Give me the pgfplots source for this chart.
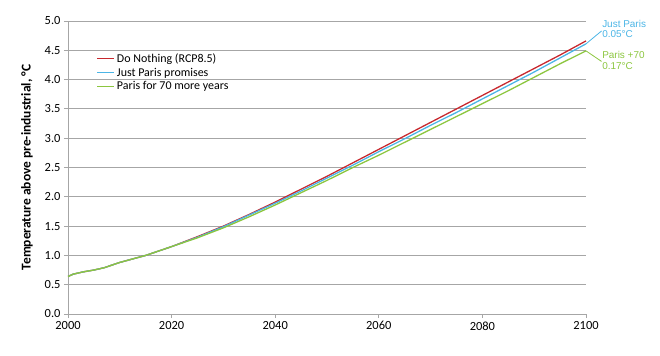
\documentclass[border=0pt]{standalone}
\usepackage{pgfplots}
\pgfplotsset{compat=1.18}
\usepackage{fontspec}
\setmainfont{Carlito}
\newfontfamily\arialfont{Liberation Sans}
\definecolor{cred}{HTML}{C8282E}
\definecolor{cblue}{HTML}{4BB5E6}
\definecolor{cgreen}{HTML}{8CC63F}
\definecolor{cgrid}{HTML}{A6A6A6}
\begin{document}
\begin{tikzpicture}
\useasboundingbox (-68bp,-42bp) rectangle (592bp,314bp);
\begin{axis}[
  at={(0,0)}, anchor=south west,
  scale only axis, width=518bp, height=293bp,
  xmin=2000, xmax=2100, ymin=0, ymax=5,
  xtick={2000,2020,...,2100}, ytick={0,0.5,...,5},
  ymajorgrids, grid style={cgrid, line width=0.8pt},
  axis x line*=bottom, axis y line*=left,
  axis line style={cgrid, line width=0.8pt, -},
  tick align=outside, major tick length=4bp,
  tick style={cgrid, line width=0.8pt},
  clip=false,
  font=\fontsize{12.5}{14}\selectfont,
  /pgf/number format/assume math mode=true,
  xticklabel style={/pgf/number format/.cd, 1000 sep={}},
  yticklabel style={/pgf/number format/.cd, fixed, fixed zerofill, precision=1},
  ylabel={\bfseries Temperature above pre-industrial, °C},
  ylabel style={font=\fontsize{13.5}{15}\selectfont, at={(axis description cs:-0.079,0.5)}, anchor=center},
  legend style={draw=none, fill=none, at={(axis cs:2005.5,4.48)}, anchor=north west,
    font=\fontsize{12}{14}\selectfont, row sep=0bp, inner sep=0pt},
  legend cell align=left,
  legend image code/.code={\draw[#1] (0bp,0bp) -- (17bp,0bp);},
]
\addplot[cred, line width=1.3pt] coordinates {
(2000,0.64) (2001,0.68) (2003,0.72) (2005,0.75) (2007,0.79) (2008,0.82) (2010,0.88) (2015,1.00) (2020,1.15)
(2025,1.32) (2030,1.50) (2035,1.70) (2040,1.91) (2045,2.13) (2050,2.35) (2055,2.58) (2060,2.81)
(2065,3.04) (2070,3.27) (2075,3.50) (2080,3.73) (2085,3.96) (2090,4.19) (2095,4.42) (2100,4.66)};
\addlegendentry{Do Nothing (RCP8.5)}
\addplot[cblue, line width=1.3pt] coordinates {
(2000,0.64) (2001,0.68) (2003,0.72) (2005,0.75) (2007,0.79) (2008,0.82) (2010,0.88) (2015,1.00) (2020,1.15)
(2025,1.31) (2030,1.49) (2035,1.69) (2040,1.89) (2045,2.10) (2050,2.32) (2055,2.54) (2060,2.77)
(2065,2.99) (2070,3.22) (2075,3.44) (2080,3.67) (2085,3.90) (2090,4.13) (2095,4.37) (2100,4.61)};
\addlegendentry{Just Paris promises}
\addplot[cgreen, line width=1.3pt] coordinates {
(2000,0.64) (2001,0.68) (2003,0.72) (2005,0.75) (2007,0.79) (2008,0.82) (2010,0.88) (2015,1.00) (2020,1.15)
(2025,1.30) (2030,1.47) (2035,1.66) (2040,1.86) (2045,2.07) (2050,2.28) (2055,2.50) (2060,2.71)
(2065,2.93) (2070,3.15) (2075,3.37) (2080,3.59) (2085,3.81) (2090,4.04) (2095,4.27) (2100,4.49)};
\addlegendentry{Paris for 70 more years}
\draw[cblue, line width=0.8pt] (axis cs:2100,4.61) -- (axis cs:2103,4.83);
\draw[cgreen, line width=0.8pt] (axis cs:2100,4.49) -- (axis cs:2103,4.31);
\node[anchor=north west, inner sep=0pt, align=left, text=cblue, font=\arialfont\fontsize{10}{10.5}\selectfont]
  at (axis cs:2103.1,5.02) {Just Paris\\0.05°C};
\node[anchor=north west, inner sep=0pt, align=left, text=cgreen, font=\arialfont\fontsize{10}{10.5}\selectfont]
  at (axis cs:2103.1,4.48) {Paris +70\\0.17°C};
\end{axis}
\end{tikzpicture}
\end{document}
